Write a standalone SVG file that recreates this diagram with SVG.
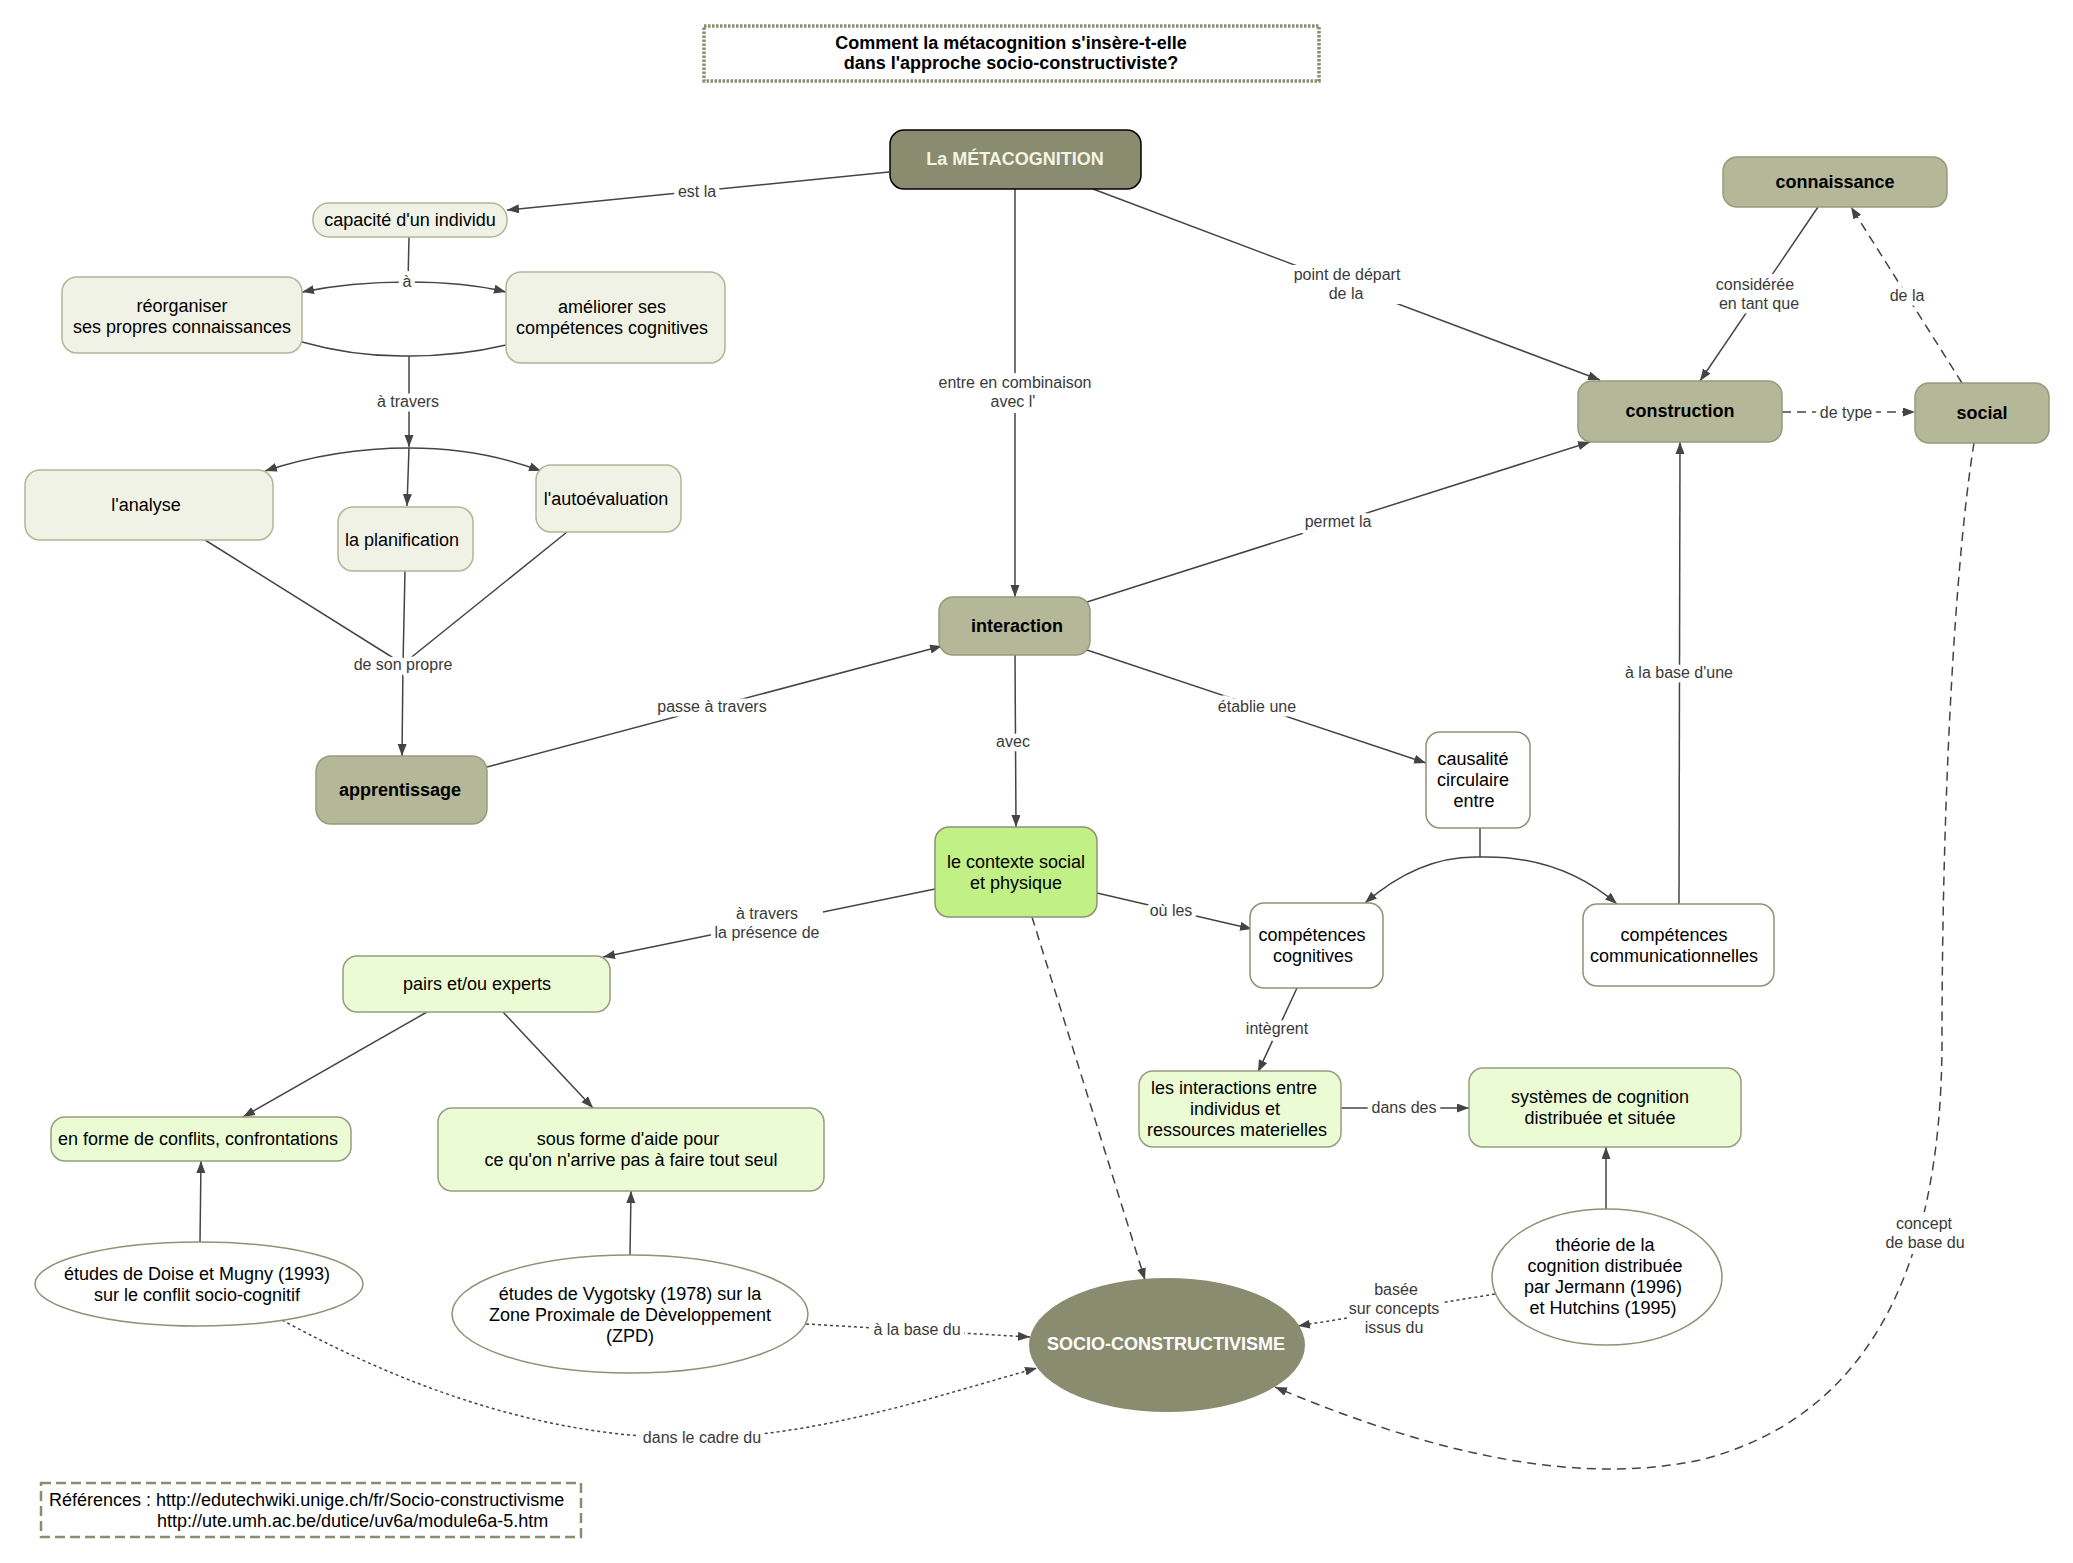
<svg xmlns="http://www.w3.org/2000/svg" width="2073" height="1563" viewBox="0 0 2073 1563">
<style>
text{font-family:"Liberation Sans",Arial,Helvetica,sans-serif}
.t{font-size:18px;fill:#000;text-anchor:middle}
.b{font-weight:bold}
.lb{font-size:16px;fill:#3a3a3a;text-anchor:middle;stroke:#fff;stroke-width:9px;stroke-linejoin:round;paint-order:stroke}
.lbg{fill:#fff;stroke:none}
.ln{fill:none;stroke:#444;stroke-width:1.5}
.da{stroke-dasharray:9 6}
.do{stroke-dasharray:3 3}
.dk{fill:#8a8c70;stroke:#000;stroke-width:1.5}
.md{fill:#b5b898;stroke:#979a7c;stroke-width:1.5}
.cr{fill:#f1f2e6;stroke:#b2b596;stroke-width:1.5}
.lg{fill:#ebfbd4;stroke:#9a9c80;stroke-width:1.5}
.bg{fill:#c1f086;stroke:#8f9275;stroke-width:1.5}
.wh{fill:#fff;stroke:#8f9275;stroke-width:1.5}
</style>
<defs>
<marker id="a" markerUnits="userSpaceOnUse" markerWidth="13" markerHeight="10" refX="12" refY="4.5" orient="auto"><path d="M0,0 L12,4.5 L0,9 Z" fill="#444"/></marker>
</defs>
<rect width="2073" height="1563" fill="#fff"/>

<g id="connectors">
<path class="ln" d="M889 172 L507 210" marker-end="url(#a)"/>
<path class="ln" d="M409 237 L408 282"/>
<path class="ln" d="M408 282 Q350 282 302 292" marker-end="url(#a)"/>
<path class="ln" d="M408 282 Q466 282 506 292" marker-end="url(#a)"/>
<path class="ln" d="M302 342 Q355 357 409 356 Q460 356 506 345"/>
<path class="ln" d="M409 356 L409 447" marker-end="url(#a)"/>
<path class="ln" d="M409 448 L407 506" marker-end="url(#a)"/>
<path class="ln" d="M409 448 Q335 448 265 471" marker-end="url(#a)"/>
<path class="ln" d="M409 448 Q480 448 541 471" marker-end="url(#a)"/>
<path class="ln" d="M205 540 L403 664 M405 571 L403 664 M567 532 L403 664"/>
<path class="ln" d="M403 664 L402 756" marker-end="url(#a)"/>
<path class="ln" d="M487 767 L942 646" marker-end="url(#a)"/>
<path class="ln" d="M1015 189 L1015 597" marker-end="url(#a)"/>
<path class="ln" d="M1093 189 L1600 380" marker-end="url(#a)"/>
<path class="ln" d="M1087 602 L1590 442" marker-end="url(#a)"/>
<path class="ln" d="M1818 207 L1700 381" marker-end="url(#a)"/>
<path class="ln da" d="M1962 383 L1851 207" marker-end="url(#a)"/>
<path class="ln da" d="M1782 412 L1915 412" marker-end="url(#a)"/>
<path class="ln da" d="M1974 443 C1955 560 1942 800 1942 1040 C1942 1280 1860 1420 1700 1460 C1560 1490 1400 1440 1275 1387" marker-end="url(#a)"/>
<path class="ln" d="M1015 655 L1016 827" marker-end="url(#a)"/>
<path class="ln" d="M1087 650 L1426 763" marker-end="url(#a)"/>
<path class="ln" d="M1480 828 L1480 857"/>
<path class="ln" d="M1480 857 Q1420 855 1365 903" marker-end="url(#a)"/>
<path class="ln" d="M1480 857 Q1560 855 1617 904" marker-end="url(#a)"/>
<path class="ln" d="M1679 904 L1680 442" marker-end="url(#a)"/>
<path class="ln" d="M935 889 L603 957" marker-end="url(#a)"/>
<path class="ln" d="M1097 893 L1252 929" marker-end="url(#a)"/>
<path class="ln da" d="M1032 917 L1145 1280" marker-end="url(#a)"/>
<path class="ln" d="M427 1012 L243 1117" marker-end="url(#a)"/>
<path class="ln" d="M503 1012 L593 1108" marker-end="url(#a)"/>
<path class="ln" d="M200 1242 L201 1161" marker-end="url(#a)"/>
<path class="ln" d="M630 1255 L631 1191" marker-end="url(#a)"/>
<path class="ln do" d="M806 1324 L1030 1337" marker-end="url(#a)"/>
<path class="ln do" d="M282 1320 C420 1395 560 1440 702 1438 C820 1436 940 1395 1037 1368" marker-end="url(#a)"/>
<path class="ln" d="M1297 988 L1258 1072" marker-end="url(#a)"/>
<path class="ln" d="M1341 1108 L1469 1108" marker-end="url(#a)"/>
<path class="ln" d="M1606 1209 L1606 1147" marker-end="url(#a)"/>
<path class="ln do" d="M1495 1294 L1298 1326" marker-end="url(#a)"/>

<rect class="lbg" x="936" y="373" width="158" height="40"/>
<rect class="lbg" x="1290" y="265" width="114" height="39"/>
<rect class="lbg" x="1712" y="274" width="92" height="39"/>
<rect class="lbg" x="714" y="902" width="109" height="40"/>
<rect class="lbg" x="1884" y="1212" width="82" height="42"/>
<rect class="lbg" x="1348" y="1277" width="95" height="61"/>

<text class="lb" x="697" y="197">est la</text>
<text class="lb" x="407" y="287">à</text>
<text class="lb" x="408" y="407">à travers</text>
<text class="lb" x="403" y="670">de son propre</text>
<text class="lb" x="712" y="712">passe à travers</text>
<text class="lb" x="1015" y="388">entre en combinaison</text>
<text class="lb" x="1013" y="407">avec l'</text>
<text class="lb" x="1347" y="280">point de départ</text>
<text class="lb" x="1346" y="299">de la</text>
<text class="lb" x="1338" y="527">permet la</text>
<text class="lb" x="1755" y="290">considérée</text>
<text class="lb" x="1759" y="309">en tant que</text>
<text class="lb" x="1907" y="301">de la</text>
<text class="lb" x="1846" y="418">de type</text>
<text class="lb" x="1924" y="1229">concept</text>
<text class="lb" x="1925" y="1248">de base du</text>
<text class="lb" x="1013" y="747">avec</text>
<text class="lb" x="1257" y="712">établie une</text>
<text class="lb" x="1679" y="678">à la base d'une</text>
<text class="lb" x="767" y="919">à travers</text>
<text class="lb" x="767" y="938">la présence de</text>
<text class="lb" x="1171" y="916">où les</text>
<text class="lb" x="1277" y="1034">intègrent</text>
<text class="lb" x="1404" y="1113">dans des</text>
<text class="lb" x="917" y="1335">à la base du</text>
<text class="lb" x="702" y="1443">dans le cadre du</text>
<text class="lb" x="1396" y="1295">basée</text>
<text class="lb" x="1394" y="1314">sur concepts</text>
<text class="lb" x="1394" y="1333">issus du</text>
</g>

<g id="title">
<rect x="704" y="26" width="615" height="55" fill="#fff" stroke="#8b8d70" stroke-width="3.5" stroke-dasharray="2.5 1.5"/>
<text class="t b" x="1011" y="49">Comment la métacognition s'insère-t-elle</text>
<text class="t b" x="1011" y="69">dans l'approche socio-constructiviste?</text>
</g>

<g id="metacognition">
<rect class="dk" x="890" y="130" width="251" height="59" rx="14"/>
<text class="t b" x="1015" y="165" style="fill:#f4f4e4">La MÉTACOGNITION</text>
</g>
<g id="connaissance">
<rect class="md" x="1723" y="157" width="224" height="50" rx="14"/>
<text class="t b" x="1835" y="188">connaissance</text>
</g>
<g id="construction">
<rect class="md" x="1578" y="381" width="204" height="61" rx="14"/>
<text class="t b" x="1680" y="417">construction</text>
</g>
<g id="social">
<rect class="md" x="1915" y="383" width="134" height="60" rx="14"/>
<text class="t b" x="1982" y="419">social</text>
</g>
<g id="capacite">
<rect class="cr" x="313" y="203" width="194" height="34" rx="16"/>
<text class="t" x="410" y="226">capacité d'un individu</text>
</g>
<g id="reorganiser">
<rect class="cr" x="62" y="277" width="240" height="76" rx="15"/>
<text class="t" x="182" y="312">réorganiser</text>
<text class="t" x="182" y="333">ses propres connaissances</text>
</g>
<g id="ameliorer">
<rect class="cr" x="506" y="272" width="219" height="91" rx="15"/>
<text class="t" x="612" y="313">améliorer ses</text>
<text class="t" x="612" y="334">compétences cognitives</text>
</g>
<g id="analyse">
<rect class="cr" x="25" y="470" width="248" height="70" rx="15"/>
<text class="t" x="146" y="511">l'analyse</text>
</g>
<g id="planification">
<rect class="cr" x="338" y="507" width="135" height="64" rx="15"/>
<text class="t" x="402" y="546">la planification</text>
</g>
<g id="autoevaluation">
<rect class="cr" x="536" y="465" width="145" height="67" rx="15"/>
<text class="t" x="606" y="505">l'autoévaluation</text>
</g>
<g id="apprentissage">
<rect class="md" x="316" y="756" width="171" height="68" rx="15"/>
<text class="t b" x="400" y="796">apprentissage</text>
</g>
<g id="interaction">
<rect class="md" x="939" y="597" width="151" height="58" rx="14"/>
<text class="t b" x="1017" y="632">interaction</text>
</g>
<g id="contexte">
<rect class="bg" x="935" y="827" width="162" height="90" rx="14"/>
<text class="t" x="1016" y="868">le contexte social</text>
<text class="t" x="1016" y="889">et physique</text>
</g>
<g id="pairs">
<rect class="lg" x="343" y="956" width="267" height="56" rx="14"/>
<text class="t" x="477" y="990">pairs et/ou experts</text>
</g>
<g id="causalite">
<rect class="wh" x="1426" y="732" width="104" height="96" rx="14"/>
<text class="t" x="1473" y="765">causalité</text>
<text class="t" x="1473" y="786">circulaire</text>
<text class="t" x="1474" y="807">entre</text>
</g>
<g id="competences-cognitives">
<rect class="wh" x="1250" y="903" width="133" height="85" rx="14"/>
<text class="t" x="1312" y="941">compétences</text>
<text class="t" x="1313" y="962">cognitives</text>
</g>
<g id="competences-communicationnelles">
<rect class="wh" x="1583" y="904" width="191" height="82" rx="14"/>
<text class="t" x="1674" y="941">compétences</text>
<text class="t" x="1674" y="962">communicationnelles</text>
</g>
<g id="conflits">
<rect class="lg" x="51" y="1117" width="300" height="44" rx="14"/>
<text class="t" x="198" y="1145">en forme de conflits, confrontations</text>
</g>
<g id="aide">
<rect class="lg" x="438" y="1108" width="386" height="83" rx="14"/>
<text class="t" x="628" y="1145">sous forme d'aide pour</text>
<text class="t" x="631" y="1166">ce qu'on n'arrive pas à faire tout seul</text>
</g>
<g id="interactions-ressources">
<rect class="lg" x="1139" y="1071" width="202" height="76" rx="14"/>
<text class="t" x="1234" y="1094">les interactions entre</text>
<text class="t" x="1235" y="1115">individus et</text>
<text class="t" x="1237" y="1136">ressources materielles</text>
</g>
<g id="systemes">
<rect class="lg" x="1469" y="1068" width="272" height="79" rx="14"/>
<text class="t" x="1600" y="1103">systèmes de cognition</text>
<text class="t" x="1600" y="1124">distribuée et située</text>
</g>
<g id="doise">
<ellipse class="wh" cx="199" cy="1284" rx="164" ry="42"/>
<text class="t" x="197" y="1280">études de Doise et Mugny (1993)</text>
<text class="t" x="197" y="1301">sur le conflit socio-cognitif</text>
</g>
<g id="vygotsky">
<ellipse class="wh" cx="630" cy="1314" rx="178" ry="59"/>
<text class="t" x="630" y="1300">études de Vygotsky (1978) sur la</text>
<text class="t" x="630" y="1321">Zone Proximale de Dèveloppement</text>
<text class="t" x="630" y="1342">(ZPD)</text>
</g>
<g id="socio-constructivisme">
<ellipse cx="1167" cy="1345" rx="138" ry="67" fill="#8a8c70"/>
<text class="t b" x="1166" y="1350" style="fill:#fff">SOCIO-CONSTRUCTIVISME</text>
</g>
<g id="theorie">
<ellipse class="wh" cx="1607" cy="1277" rx="115" ry="68"/>
<text class="t" x="1605" y="1251">théorie de la</text>
<text class="t" x="1605" y="1272">cognition distribuée</text>
<text class="t" x="1603" y="1293">par Jermann (1996)</text>
<text class="t" x="1603" y="1314">et Hutchins (1995)</text>
</g>
<g id="references">
<rect x="41" y="1483" width="540" height="54" fill="#fff" stroke="#8b8d70" stroke-width="2.5" stroke-dasharray="10 5"/>
<text x="49" y="1506" style="font-size:18px;fill:#000">Références : http://edutechwiki.unige.ch/fr/Socio-constructivisme</text>
<text x="157" y="1527" style="font-size:18px;fill:#000">http://ute.umh.ac.be/dutice/uv6a/module6a-5.htm</text>
</g>
</svg>
